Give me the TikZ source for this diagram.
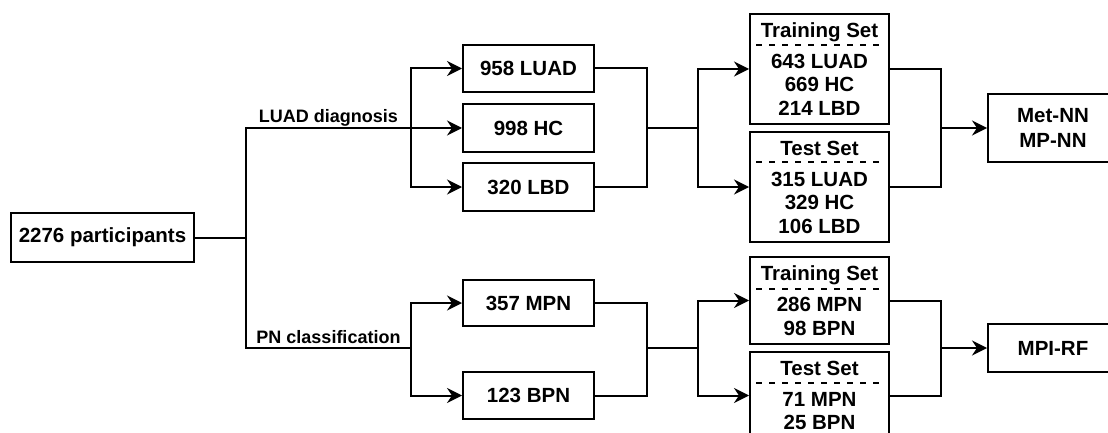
\documentclass[tikz,border=0pt]{standalone}
\usepackage{fontspec}
\setmainfont{Liberation Sans}
\usetikzlibrary{arrows.meta, calc}

\begin{document}
\begin{tikzpicture}[x=1pt, y=-1pt,
	box/.style={draw, line width=2pt, fill=white, align=center, inner sep=0pt, font=\fontsize{20.5}{23.5}\selectfont\bfseries},
	link/.style={line width=2pt},
	arr/.style={line width=2pt, -{Stealth[length=15pt, width=15pt, inset=5pt]}},
	lbl/.style={anchor=base, yshift=5pt, inner sep=0pt, font=\fontsize{18}{20}\selectfont\bfseries},
	sep/.style={line width=1.6pt, dash pattern=on 6pt off 7pt}]
			
			\useasboundingbox (0, 0) rectangle (1108, 433);
			
			% Participants
			\node[box, minimum width=183pt, minimum height=49pt] (part) at (102.5, 237.5) {2276 participants};
			
			% LUAD diagnosis branch
			\node[box, minimum width=131pt, minimum height=47pt] (luad) at (528.5, 68.5) {958 LUAD};
			\node[box, minimum width=131pt, minimum height=48pt] (hc) at (528.5, 128) {998 HC};
			\node[box, minimum width=131pt, minimum height=48pt] (lbd) at (528.5, 187) {320 LBD};
			
			\node[box, minimum width=139pt, minimum height=110pt] (trainA) at (819.5, 69) {Training Set\\[7.5pt]643 LUAD\\669 HC\\214 LBD};
			\node[box, minimum width=139pt, minimum height=110pt] (testA) at (819.5, 187) {Test Set\\[7.5pt]315 LUAD\\329 HC\\106 LBD};
			\draw[sep] ($(trainA.north west)+(7, 32)$) -- ($(trainA.north east)+(-7, 32)$);
			\draw[sep] ($(testA.north west)+(7, 31)$) -- ($(testA.north east)+(-7, 31)$);
			
			\node[box, minimum width=130pt, minimum height=67pt] (nn) at (1053, 128) {Met-NN\\[1.5pt]MP-NN};
			
			% PN classification branch
			\node[box, minimum width=131pt, minimum height=46pt] (mpn) at (528.5, 303) {357 MPN};
			\node[box, minimum width=131pt, minimum height=47pt] (bpn) at (528.5, 395.5) {123 BPN};
			
			\node[box, minimum width=139pt, minimum height=87pt] (trainB) at (819.5, 300.5) {Training Set\\[7.5pt]286 MPN\\98 BPN};
			\node[box, minimum width=139pt, minimum height=87pt] (testB) at (819.5, 395.5) {Test Set\\[7.5pt]71 MPN\\25 BPN};
			\draw[sep] ($(trainB.north west)+(7, 33)$) -- ($(trainB.north east)+(-7, 33)$);
			\draw[sep] ($(testB.north west)+(7, 32)$) -- ($(testB.north east)+(-7, 32)$);
			
			\node[box, minimum width=130pt, minimum height=48pt] (rf) at (1053, 348) {MPI-RF};
			
			% Junctions
			\coordinate (jA) at (246, 128);
			\coordinate (jB) at (246, 348);
			\coordinate (fA) at (411, 128);
			\coordinate (fB) at (411, 348);
			\coordinate (mA) at (647, 128);
			\coordinate (gA) at (698, 128);
			\coordinate (mB) at (647, 348);
			\coordinate (gB) at (698, 348);
			\coordinate (hA) at (941, 128);
			\coordinate (hB) at (941, 348);
			
			% Split into the two tasks
			\draw[link] (part.east) -- (part.east -| jA);
			\draw[link] (fA) -- node[lbl] {LUAD diagnosis} (jA) -- (jB) -- node[lbl] {PN classification} (fB);
			
			\draw[arr] (fA) |- (luad.west);
			\draw[arr] (fA) -- (hc.west);
			\draw[arr] (fA) |- (lbd.west);
			\draw[arr] (fB) |- (mpn.west);
			\draw[arr] (fB) |- (bpn.west);
			
			% Merge and split into sets
			\draw[link] (luad.east) -| (mA) -- (gA);
			\draw[link] (lbd.east) -| (mA);
			\draw[arr] (gA) |- (trainA.west);
			\draw[arr] (gA) |- (testA.west);
			
			\draw[link] (mpn.east) -| (mB) -- (gB);
			\draw[link] (bpn.east) -| (mB);
			\draw[arr] (gB) |- (trainB.west);
			\draw[arr] (gB) |- (testB.west);
			
			% Models
			\draw[link] (trainA.east) -| (hA);
			\draw[link] (testA.east) -| (hA);
			\draw[arr] (hA) -- (nn.west);
			
			\draw[link] (trainB.east) -| (hB);
			\draw[link] (testB.east) -| (hB);
			\draw[arr] (hB) -- (rf.west);
			
		\end{tikzpicture}
\end{document}
